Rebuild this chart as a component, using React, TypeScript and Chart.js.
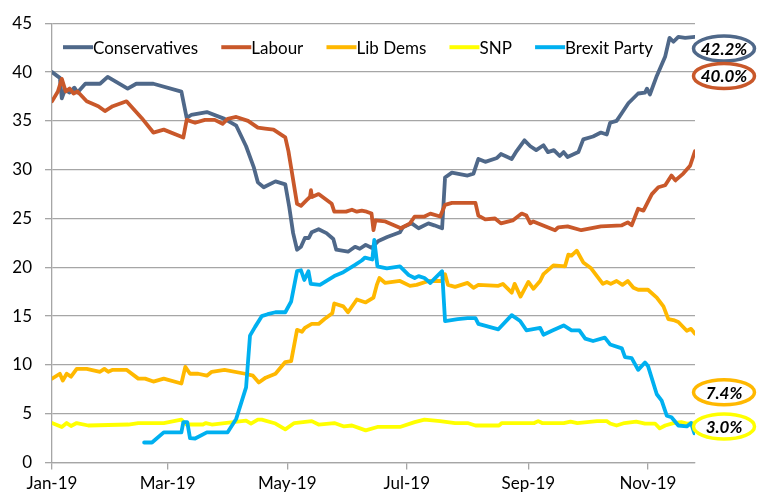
import React, { useEffect, useRef } from "react";
import { Chart, registerables } from "chart.js";

Chart.register(...registerables);

const FONT = "Lato, 'Open Sans', 'Liberation Sans', sans-serif";

// x values are days since 1 Jan 2019
const monthTickDays = [0, 59, 120, 181, 243, 304];
const monthTickLabels = ["Jan-19", "Mar-19", "May-19", "Jul-19", "Sep-19", "Nov-19"];
const lastDay = 328;

const seriesNames = ["Conservatives", "Labour", "Lib Dems", "SNP", "Brexit Party"];
const seriesColors = ["#4F6889", "#C9582A", "#FFB800", "#FFFF00", "#00B0F0"];

const conservatives: [number, number][] = [
  [0, 40.0], [4, 39.4], [5, 37.3], [6.6, 38.2], [9, 37.9], [11.4, 38.4], [13, 37.9], [17, 38.8],
  [24.5, 38.8], [28.4, 39.5], [38.6, 38.3], [43, 38.8], [51.7, 38.8], [66, 38.0], [68.7, 35.3],
  [71, 35.6], [79, 35.9], [88, 35.2], [94, 34.5], [99, 32.4], [103, 30.2], [105, 28.7], [108, 28.2],
  [114, 28.8], [119, 28.5], [121, 26.2], [123, 23.5], [125, 21.8], [127, 22.1], [129, 23.0],
  [131, 23.0], [132.5, 23.6], [136, 23.9], [140, 23.5], [143.5, 22.9], [145, 21.8], [151, 21.6],
  [154.6, 22.1], [157, 21.9], [160, 22.3], [163, 22.0], [166.5, 22.7], [171, 23.1], [177.5, 23.6],
  [179, 24.1], [183.5, 24.5], [187, 24.0], [192, 24.5], [195, 24.3], [199, 24.0], [200.5, 29.2],
  [204, 29.7], [212, 29.4], [215, 29.6], [217.5, 31.1], [221, 30.8], [227, 31.2], [229, 31.6],
  [234.5, 31.1], [237, 31.9], [241, 33.0], [244, 32.4], [247, 32.0], [250.7, 32.5], [253, 31.8],
  [256, 32.0], [259, 31.4], [261, 31.8], [263, 31.3], [268.5, 31.8], [271, 33.1], [276, 33.4],
  [280, 33.8], [283, 33.6], [284.7, 34.8], [288, 35.0], [290.7, 35.8], [294, 36.8], [299, 37.8],
  [302.5, 37.9], [303.5, 38.3], [305, 37.7], [308.5, 39.6], [312.8, 41.6], [315, 43.5], [317, 43.1],
  [319.5, 43.6], [323, 43.5], [328, 43.6],
];

const labour: [number, number][] = [
  [0, 37.0], [3, 38.0], [5, 39.3], [7, 38.0], [9, 38.3], [11, 37.8], [13, 38.0], [17.7, 37.0],
  [23.6, 36.5], [27, 36.0], [31, 36.5], [38, 37.0], [45.7, 35.3], [51.7, 33.8], [57, 34.1],
  [67, 33.3], [68.7, 35.1], [73, 34.8], [78, 35.1], [83, 35.1], [87, 34.7], [89.6, 35.2], [94, 35.4],
  [100, 35.0], [105, 34.3], [108.7, 34.2], [113, 34.1], [119, 33.3], [120.6, 31.9], [122, 30.2],
  [125, 26.5], [127, 26.3], [130, 26.9], [131.6, 27.2], [132.1, 27.9], [132.6, 27.2], [136, 27.5],
  [142.7, 26.5], [144, 25.7], [150, 25.7], [153, 25.9], [155.5, 25.7], [158, 25.8], [160.5, 25.7],
  [163, 25.5], [164, 23.8], [165, 24.8], [170, 24.7], [178, 24.0], [182.6, 24.5], [185, 25.2],
  [190, 25.2], [193, 25.5], [198, 25.2], [200.5, 26.4], [204, 26.6], [216, 26.6], [217.5, 25.3],
  [221, 24.9], [226, 25.0], [229, 24.5], [235, 24.8], [239.6, 25.5], [242, 25.3], [244, 24.5],
  [245.5, 24.7], [251.5, 24.2], [256.6, 23.8], [258.3, 24.1], [263, 24.2], [270, 23.8], [280, 24.2],
  [290.7, 24.3], [293.7, 24.6], [295.7, 24.3], [299, 26.0], [301.7, 25.8], [306, 27.5], [309.3, 28.2],
  [312.8, 28.4], [316, 29.4], [318, 28.9], [322, 29.6], [325.5, 30.4], [328, 31.9],
];

const libDems: [number, number][] = [
  [0, 8.6], [4, 9.1], [5.5, 8.4], [7.5, 9.1], [9.7, 8.8], [12.6, 9.6], [17.7, 9.6], [24.5, 9.3],
  [26.7, 9.6], [28.7, 9.3], [31, 9.5], [38, 9.5], [44, 8.6], [47.5, 8.6], [51.7, 8.3], [57, 8.6],
  [66, 8.1], [68, 9.8], [70.4, 9.1], [74.6, 9.1], [79, 8.9], [81.5, 9.3], [88, 9.5], [98.5, 9.1],
  [102.5, 8.9], [105.5, 8.2], [109, 8.7], [114, 9.1], [119, 10.3], [122, 10.4], [125, 13.6],
  [127.5, 13.4], [129, 13.8], [132.5, 14.2], [136, 14.2], [139, 14.7], [143, 15.3], [144, 16.3],
  [148.6, 16.0], [151, 15.4], [155.5, 16.7], [160, 16.4], [164, 16.9], [165.7, 18.2], [167, 18.9],
  [170, 18.4], [177.5, 18.6], [182.6, 18.1], [186, 18.2], [192, 18.6], [199, 18.6], [200.5, 19.3],
  [202, 18.2], [205.6, 18.0], [212, 18.4], [215, 17.9], [217.5, 18.2], [227.7, 18.1], [230, 18.3],
  [234.5, 17.4], [236, 18.3], [239, 17.0], [243, 18.5], [245.6, 17.8], [249, 18.6], [250.7, 19.3],
  [255.8, 20.2], [261.7, 20.1], [263.4, 21.3], [265, 21.2], [267.7, 21.7], [271, 20.5], [275, 19.9],
  [281, 18.3], [283, 18.5], [285, 18.3], [288, 18.6], [291, 18.2], [293.7, 18.6], [296.6, 17.9],
  [299, 17.7], [304, 17.7], [308.5, 16.9], [311.9, 16.0], [314.4, 14.7], [317, 14.6], [319.5, 14.4],
  [323.8, 13.5], [326, 13.7], [328, 13.2],
];

const snp: [number, number][] = [
  [0, 4.05], [5, 3.65], [7.5, 4.05], [9.7, 3.75], [12.6, 4.05], [18.5, 3.8], [39, 3.9], [44, 4.05],
  [57, 4.05], [66, 4.4], [68.5, 3.9], [77, 3.9], [78.5, 4.05], [81.5, 3.9], [88, 4.05], [99, 4.3],
  [101.5, 4.0], [105, 4.4], [107, 4.4], [114, 4.0], [119, 3.4], [123.6, 4.05], [132.5, 4.25],
  [136, 3.9], [144, 4.05], [149, 3.7], [153, 3.8], [160, 3.3], [166, 3.65], [177.5, 3.65],
  [185, 4.15], [190, 4.4], [198, 4.25], [205.6, 4.05], [212, 4.05], [216, 3.8], [228, 3.8],
  [229.5, 4.05], [246, 4.05], [248, 4.25], [250, 4.05], [261, 4.05], [264.5, 4.2], [268, 4.05],
  [278, 4.25], [283, 4.25], [284.7, 4.0], [288, 3.8], [292, 4.05], [298, 4.2], [302.5, 4.0],
  [307.6, 4.0], [310, 3.5], [312.8, 3.8], [317, 4.05], [321, 4.15], [323.8, 4.0], [328, 4.05],
];

const brexitParty: [number, number][] = [
  [47, 2.06], [51, 2.06], [57, 3.1], [66, 3.1], [67, 4.15], [69, 4.15], [70.4, 2.5], [73, 2.47],
  [79, 3.1], [89.6, 3.1], [94, 4.5], [99, 7.7], [101, 13.0], [103.6, 13.9], [107, 15.0], [110, 15.2],
  [114, 15.4], [119, 15.4], [122, 16.5], [125, 19.6], [127, 19.7], [128.7, 18.7], [130.8, 19.6],
  [132, 18.3], [136.7, 18.2], [144, 19.1], [148.6, 19.5], [154.6, 20.25], [158, 20.7], [159.7, 21.0],
  [163.4, 20.8], [164.4, 22.8], [166, 20.1], [170.8, 19.9], [177.5, 20.1], [182, 19.2], [185, 18.9],
  [187, 19.1], [190, 18.9], [193, 18.4], [199, 19.6], [200.5, 14.5], [207, 14.7], [212, 14.8],
  [216, 14.8], [217.5, 14.2], [227.7, 13.65], [234.5, 15.1], [238.8, 14.5], [242, 13.55], [249, 13.8],
  [250.7, 13.1], [255, 13.5], [261, 14.05], [265, 13.55], [269, 13.55], [272, 12.7], [276, 12.45],
  [282, 12.8], [284.7, 12.1], [290.7, 11.7], [292.3, 10.8], [295.7, 10.7], [299, 9.5], [302.5, 10.25],
  [304, 9.9], [308.5, 7.0], [311, 6.35], [313.6, 4.8], [316, 4.65], [319.5, 3.8], [323.8, 3.7],
  [326, 4.05], [327.7, 3.0],
];

const allSeries = [conservatives, labour, libDems, snp, brexitParty];

const latestLabels = ["42.2%", "40.0%", "7.4%", "3.0%"];
const latestLabelColors = ["#4F6889", "#C9582A", "#FFB800", "#FFFF00"];

const insideLegend = {
  id: "insideLegend",
  afterDraw(chart: any) {
    const { ctx, chartArea } = chart;
    ctx.save();
    ctx.font = `17px ${FONT}`;
    const startX = chartArea.left + 11;
    const endX = chartArea.left + 601;
    const y = chartArea.top + 24;
    const sample = 30;
    const widths = seriesNames.map((n) => ctx.measureText(n).width);
    const total = widths.reduce((a, b) => a + b, 0) + sample * seriesNames.length;
    const gap = (endX - startX - total) / (seriesNames.length - 1);
    let x = startX;
    seriesNames.forEach((name, i) => {
      ctx.strokeStyle = seriesColors[i];
      ctx.lineWidth = 4;
      ctx.lineCap = "butt";
      ctx.beginPath();
      ctx.moveTo(x, y);
      ctx.lineTo(x + sample, y);
      ctx.stroke();
      ctx.fillStyle = "#000";
      ctx.textBaseline = "middle";
      ctx.textAlign = "left";
      ctx.fillText(name, x + sample, y + 1);
      x += sample + widths[i] + gap;
    });
    ctx.restore();
  },
};

const calloutLevels = [42.4, 39.6, 7.2, 3.7];

const callouts = {
  id: "callouts",
  afterDraw(chart: any) {
    const { ctx, chartArea, scales } = chart;
    ctx.save();
    const cx = chartArea.right + 29;
    latestLabels.forEach((label, i) => {
      const cy = scales.y.getPixelForValue(calloutLevels[i]);
      ctx.beginPath();
      ctx.ellipse(cx, cy, 30.5, 12.5, 0, 0, Math.PI * 2);
      ctx.fillStyle = "#fff";
      ctx.fill();
      ctx.strokeStyle = latestLabelColors[i];
      ctx.lineWidth = 3.5;
      ctx.stroke();
      ctx.fillStyle = "#000";
      ctx.font = `italic bold 17px ${FONT}`;
      ctx.textAlign = "center";
      ctx.textBaseline = "middle";
      ctx.fillText(label, cx, cy + 1);
    });
    ctx.restore();
  },
};

export default function App() {
  const ref = useRef<HTMLCanvasElement>(null);

  useEffect(() => {
    if (!ref.current) return;
    const chart = new Chart(ref.current, {
      type: "line",
      data: {
        datasets: allSeries.map((pts, i) => ({
          label: seriesNames[i],
          data: pts.map(([x, y]) => ({ x, y })),
          borderColor: seriesColors[i],
          backgroundColor: seriesColors[i],
          borderWidth: 3.8,
          pointRadius: 0,
          tension: 0,
          borderJoinStyle: "round" as const,
          borderCapStyle: "round" as const,
          order: allSeries.length - i,
        })),
      },
      options: {
        animation: false,
        responsive: true,
        maintainAspectRatio: false,
        layout: { padding: { top: 20, right: 67, left: 0, bottom: 0 } },
        plugins: { legend: { display: false }, tooltip: { enabled: false } },
        scales: {
          x: {
            type: "linear",
            min: 0,
            max: lastDay,
            afterBuildTicks: (scale: any) => {
              scale.ticks = monthTickDays.map((v) => ({ value: v }));
            },
            afterFit: (scale: any) => {
              scale.height = 29.4;
            },
            ticks: {
              autoSkip: false,
              maxRotation: 0,
              padding: 4,
              color: "#000",
              font: { family: FONT, size: 17 },
              callback: (_v: any, index: number) => monthTickLabels[index],
            },
            grid: {
              drawOnChartArea: false,
              drawTicks: true,
              tickLength: 7,
              color: "#A6A6A6",
              lineWidth: 1.3,
            },
            border: { display: true, color: "#A6A6A6", width: 1.3 },
          },
          y: {
            min: 0,
            max: 45,
            afterFit: (scale: any) => {
              scale.width = 52;
            },
            ticks: {
              stepSize: 5,
              padding: 13,
              color: "#000",
              font: { family: FONT, size: 17 },
            },
            grid: { color: "#A6A6A6", lineWidth: 1.3, tickLength: 7 },
            border: { display: true, color: "#A6A6A6", width: 1.3 },
          },
        },
      },
      plugins: [insideLegend, callouts],
    });
    return () => chart.destroy();
  }, []);

  return (
    <div style={{ position: "absolute", left: 0, top: 0, width: 762, height: 492, background: "#fff" }}>
      <canvas ref={ref} />
    </div>
  );
}
